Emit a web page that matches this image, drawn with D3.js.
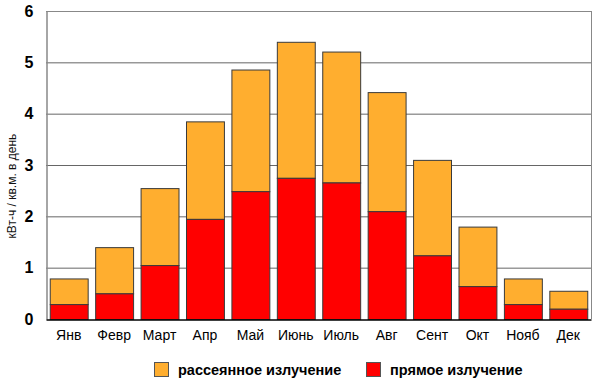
<!DOCTYPE html>
<html>
<head>
<meta charset="utf-8">
<script src="https://cdn.jsdelivr.net/npm/d3@7"></script>
<style>
  body { margin: 0; background: #fff; }
  svg { display: block; font-family: Arial, "Liberation Sans", sans-serif; }
</style>
</head>
<body>
<div id="chart"></div>
<script>
const months = ['Янв', 'Февр', 'Март', 'Апр', 'Май', 'Июнь', 'Июль', 'Авг', 'Сент', 'Окт', 'Нояб', 'Дек'];
const direct = [0.29, 0.5, 1.05, 1.95, 2.49, 2.75, 2.66, 2.1, 1.24, 0.64, 0.29, 0.2];
const total = [0.79, 1.4, 2.55, 3.85, 4.86, 5.4, 5.21, 4.42, 3.1, 1.8, 0.79, 0.55];
const yTicks = [0, 1, 2, 3, 4, 5, 6];
const seriesNames = ['рассеянное излучение', 'прямое излучение'];
const colors = ['#FFAE2F', '#FF0000'];

const width = 600, height = 383;
const margin = { top: 11, right: 9, bottom: 64, left: 46 };

const svg = d3.select('#chart').append('svg')
  .attr('width', width)
  .attr('height', height);

const x = d3.scaleBand()
  .domain(months)
  .range([margin.left, width - margin.right])
  .paddingInner(0.165)
  .paddingOuter(0.0825);

const y = d3.scaleLinear()
  .domain([0, 6])
  .range([height - margin.bottom, margin.top]);

// grid
svg.append('g')
  .selectAll('line')
  .data(yTicks.filter(d => d > 0))
  .join('line')
    .attr('x1', margin.left)
    .attr('x2', width - margin.right)
    .attr('y1', d => y(d) + 0.5)
    .attr('y2', d => y(d) + 0.5)
    .attr('stroke', d => d === 6 ? '#888' : '#666')
    .attr('stroke-width', 1);

// right border
svg.append('line')
  .attr('x1', width - margin.right + 0.5).attr('x2', width - margin.right + 0.5)
  .attr('y1', y(6)).attr('y2', y(0))
  .attr('stroke', '#888');

const rows = months.map((m, i) => ({ month: m, direct: direct[i], total: total[i] }));

const bars = svg.append('g');
// diffuse (top part)
bars.selectAll('rect.diffuse')
  .data(rows)
  .join('rect')
    .attr('class', 'diffuse')
    .attr('x', d => x(d.month) + 0.5)
    .attr('y', d => y(d.total) + 0.5)
    .attr('width', x.bandwidth())
    .attr('height', d => y(d.direct) - y(d.total))
    .attr('fill', colors[0])
    .attr('stroke', '#3a3a3a')
    .attr('stroke-width', 1);
// direct (bottom part)
bars.selectAll('rect.direct')
  .data(rows)
  .join('rect')
    .attr('class', 'direct')
    .attr('x', d => x(d.month) + 0.5)
    .attr('y', d => y(d.direct) + 0.5)
    .attr('width', x.bandwidth())
    .attr('height', d => y(0) - y(d.direct))
    .attr('fill', colors[1])
    .attr('stroke', '#3a3a3a')
    .attr('stroke-width', 1);

// y axis
const yAxis = svg.append('g')
  .attr('transform', `translate(${margin.left + 0.5},0)`)
  .call(d3.axisLeft(y).tickValues(yTicks).tickFormat(d3.format('d')).tickSize(0).tickPadding(13));
yAxis.select('.domain').attr('stroke', '#888').attr('stroke-width', 1.5);
yAxis.selectAll('text')
  .attr('font-size', 16)
  .attr('font-weight', 'bold')
  .attr('fill', '#000')
  .attr('font-family', 'Arial, "Liberation Sans", sans-serif');

// x axis
const xAxis = svg.append('g')
  .attr('transform', `translate(0,${y(0) + 0.5})`)
  .call(d3.axisBottom(x).tickSize(0).tickPadding(11));
xAxis.select('.domain').attr('stroke', '#000').attr('stroke-width', 1.5);
xAxis.selectAll('text')
  .attr('font-size', 14)
  .attr('fill', '#000')
  .attr('font-family', 'Arial, "Liberation Sans", sans-serif');

// y title
svg.append('text')
  .attr('transform', `translate(16,186) rotate(-90)`)
  .attr('text-anchor', 'middle')
  .attr('font-size', 12)
  .attr('fill', '#111')
  .text('кВт-ч / кв.м. в день');

// legend
const legendX = [154, 366];
const legend = svg.append('g');
seriesNames.forEach((name, i) => {
  legend.append('rect')
    .attr('x', legendX[i] + 0.5)
    .attr('y', 362.5)
    .attr('width', 14)
    .attr('height', 14)
    .attr('fill', colors[i])
    .attr('stroke', '#555');
  legend.append('text')
    .attr('x', legendX[i] + 24)
    .attr('y', 375)
    .attr('font-size', 14.5)
    .attr('font-weight', 'bold')
    .attr('fill', '#000')
    .text(name);
});
</script>
</body>
</html>
